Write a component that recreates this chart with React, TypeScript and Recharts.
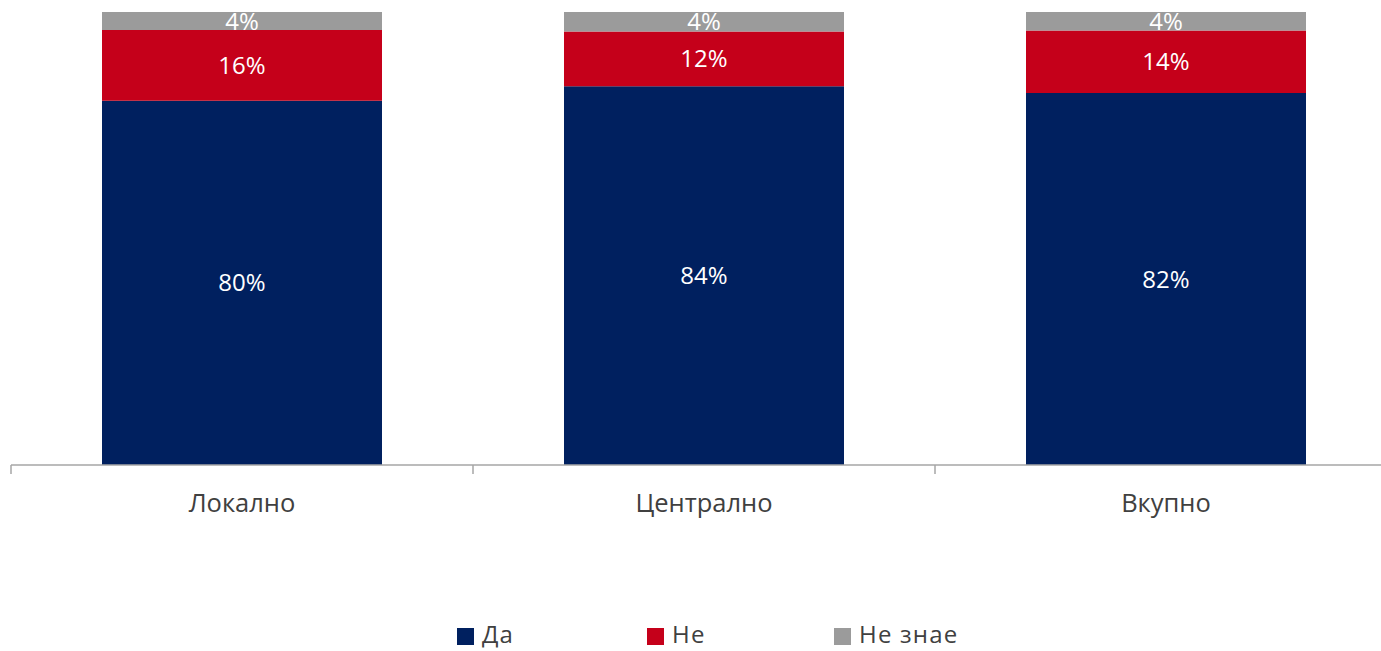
import React from "react";
import { BarChart, Bar, XAxis, YAxis, Legend, LabelList } from "recharts";

const categories = ["Локално", "Централно", "Вкупно"];
const daValues = [80.4, 83.6, 82.1];
const neValues = [15.6, 12.1, 13.8];
const neZnaeValues = [4.0, 4.3, 4.1];
const seriesNames = ["Да", "Не", "Не знае"];
const seriesColors = ["#00205F", "#C5001A", "#9B9B9B"];

const data = categories.map((c, i) => ({
  name: c,
  da: daValues[i],
  ne: neValues[i],
  neZnae: neZnaeValues[i],
}));

const FONT = "'Open Sans', 'Noto Sans', sans-serif";
const pct = (v: any) => `${Math.round(Number(v))}%`;

const CategoryTick = (props: any) => {
  const { x, y, payload, index, visibleTicksCount } = props;
  const half = payload && payload.offset ? payload.offset : 231;
  const axisY = y - 9;
  return (
    <g>
      <line x1={x - half} y1={axisY} x2={x - half} y2={axisY + 9} stroke="#A6A6A6" strokeWidth={1.5} />
      {index === (visibleTicksCount ?? 3) - 1 && (
        <line x1={x + half} y1={axisY} x2={x + half} y2={axisY + 9} stroke="#A6A6A6" strokeWidth={1.5} />
      )}
      <text x={x} y={axisY + 47} textAnchor="middle" fill="#404040" fontSize={25.5} fontFamily={FONT}>
        {payload.value}
      </text>
    </g>
  );
};

const itemWidths = [190, 187, 140];

const LegendContent = (props: any) => {
  const { payload } = props;
  return (
    <div style={{ display: "flex", height: 34, alignItems: "center", paddingLeft: 446 }}>
      {(payload || []).map((p: any, i: number) => (
        <div key={i} style={{ display: "flex", alignItems: "center", width: itemWidths[i], height: 34 }}>
          <span style={{ display: "inline-block", width: 17, height: 17, background: p.color, marginRight: 8, marginTop: 4 }} />
          <span style={{ fontFamily: FONT, fontSize: 24, letterSpacing: 1.2, color: "#404040", lineHeight: "34px" }}>{p.value}</span>
        </div>
      ))}
    </div>
  );
};

export default function App() {
  return (
    <div style={{ position: "fixed", left: 0, top: 0, width: 1381, height: 651, overflow: "hidden", background: "#fff" }}>
      <BarChart
        width={1410}
        height={651}
        data={data}
        margin={{ top: 12, right: 13, left: 11, bottom: 0 }}
        barCategoryGap={91}
      >
        <XAxis
          dataKey="name"
          height={152}
          tickLine={false}
          tickSize={9}
          tickMargin={0}
          axisLine={{ stroke: "#A6A6A6", strokeWidth: 1.5 }}
          tick={<CategoryTick />}
          interval={0}
        />
        <YAxis hide domain={[0, 100]} />
        <Legend verticalAlign="bottom" content={<LegendContent />} wrapperStyle={{ height: 34 }} />
        <Bar dataKey="da" name={seriesNames[0]} stackId="a" fill={seriesColors[0]} isAnimationActive={false}>
          <LabelList dataKey="da" position="center" formatter={pct} fill="#FFFFFF" fontSize={24} fontFamily={FONT} />
        </Bar>
        <Bar dataKey="ne" name={seriesNames[1]} stackId="a" fill={seriesColors[1]} isAnimationActive={false}>
          <LabelList dataKey="ne" position="center" formatter={pct} fill="#FFFFFF" fontSize={24} fontFamily={FONT} />
        </Bar>
        <Bar dataKey="neZnae" name={seriesNames[2]} stackId="a" fill={seriesColors[2]} isAnimationActive={false}>
          <LabelList dataKey="neZnae" position="center" formatter={pct} fill="#FFFFFF" fontSize={24} fontFamily={FONT} />
        </Bar>
      </BarChart>
    </div>
  );
}
